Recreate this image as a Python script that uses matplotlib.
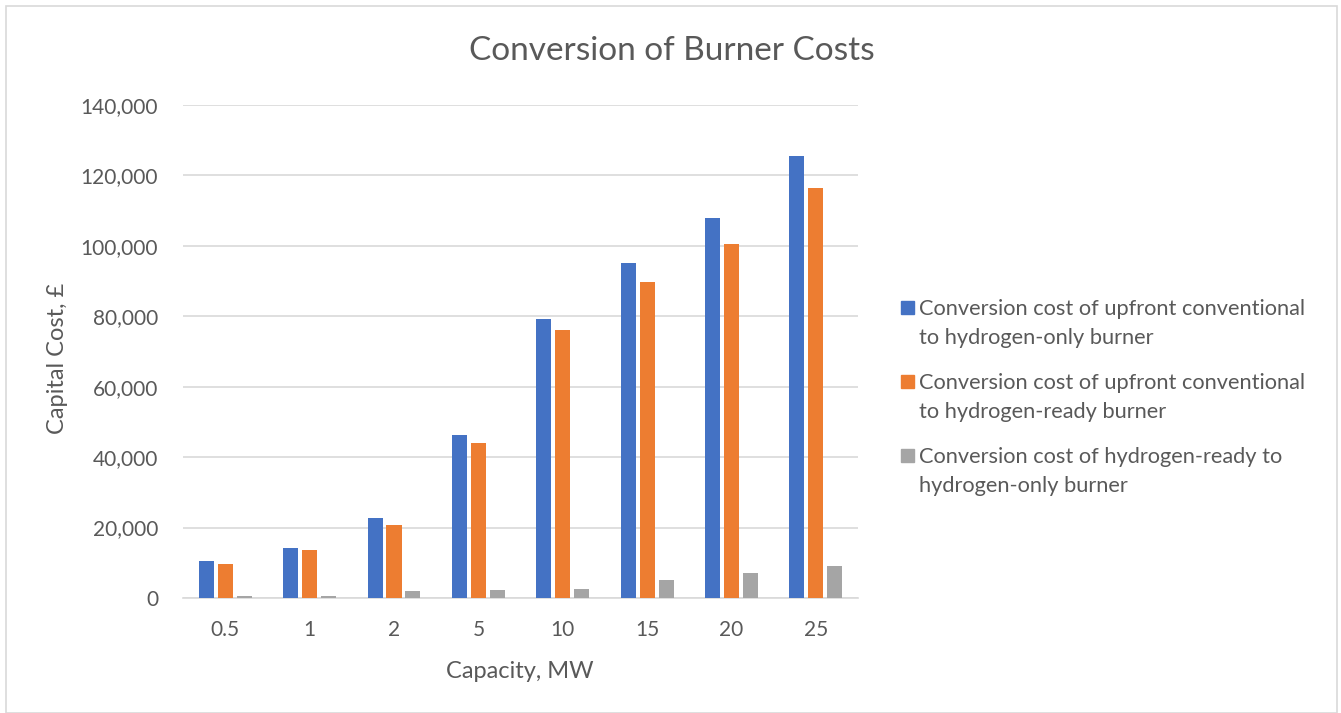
import numpy as np
import matplotlib
matplotlib.use("Agg")
import matplotlib.pyplot as plt
from matplotlib.patches import Rectangle
from matplotlib.ticker import FuncFormatter

plt.rcParams['font.family'] = ['Lato', 'DejaVu Sans']

capacities = ['0.5', '1', '2', '5', '10', '15', '20', '25']
only_from_conv = [10400, 14300, 22800, 46400, 79100, 95000, 108000, 125500]
ready_from_conv = [9750, 13650, 20600, 44000, 76200, 89700, 100600, 116300]
only_from_ready = [650, 700, 2100, 2200, 2650, 5200, 7200, 9000]

series_names = [
    'Conversion cost of upfront conventional\nto hydrogen-only burner',
    'Conversion cost of upfront conventional\nto hydrogen-ready burner',
    'Conversion cost of hydrogen-ready to\nhydrogen-only burner',
]
colors = ['#4472C4', '#ED7D31', '#A5A5A5']
text_col = '#595959'
grid_col = '#D9D9D9'

W, H = 1341, 713
fig = plt.figure(figsize=(W / 100, H / 100), dpi=100)
ax = fig.add_axes([0.1365, 0.1613, 0.5034, 0.6914])

# outer chart border
fig.patches.append(Rectangle((6 / W, 0), 1331 / W, 707 / H, transform=fig.transFigure,
                             fill=False, edgecolor=grid_col, linewidth=1.2))

x = np.arange(len(capacities))
w = 0.178
step = 0.225
for i, vals in enumerate([only_from_conv, ready_from_conv, only_from_ready]):
    ax.bar(x + (i - 1) * step, vals, width=w, color=colors[i], zorder=3)

ax.set_xlim(-0.5, len(capacities) - 0.5)
ax.set_ylim(0, 140000)
ax.set_yticks(np.arange(0, 140001, 20000))
ax.yaxis.set_major_formatter(FuncFormatter(lambda v, p: f'{int(v):,}'))
ax.set_xticks(x)
ax.set_xticklabels(capacities)
ax.grid(axis='y', color=grid_col, linewidth=1.2, zorder=0)
for s in ['top', 'right', 'left']:
    ax.spines[s].set_visible(False)
ax.spines['bottom'].set_color(grid_col)
ax.spines['bottom'].set_linewidth(1.2)
ax.tick_params(length=0, labelsize=15, colors=text_col)
ax.tick_params(axis='x', pad=16)
ax.tick_params(axis='y', pad=18)

fig.text(0.501, (H - 60) / H, 'Conversion of Burner Costs', fontsize=24, color=text_col,
         ha='center', va='baseline')
fig.text(520 / W, (H - 678) / H, 'Capacity, MW', fontsize=17, color=text_col,
         ha='center', va='baseline')
fig.text(57 / W, (H - 358) / H, 'Capital Cost, £', fontsize=17, color=text_col,
         ha='center', va='center', rotation=90)

# legend, marker aligned with first line of each entry
for i, name in enumerate(series_names):
    base = 314 + 74 * i
    fig.patches.append(Rectangle((901 / W, (H - base) / H), 13 / W, 13 / H,
                                 transform=fig.transFigure, color=colors[i]))
    fig.text(919 / W, (H - base - 30) / H, name, fontsize=15.7, color=text_col,
             ha='left', va='baseline', linespacing=1.56)

fig.savefig('out.png', dpi=100)
